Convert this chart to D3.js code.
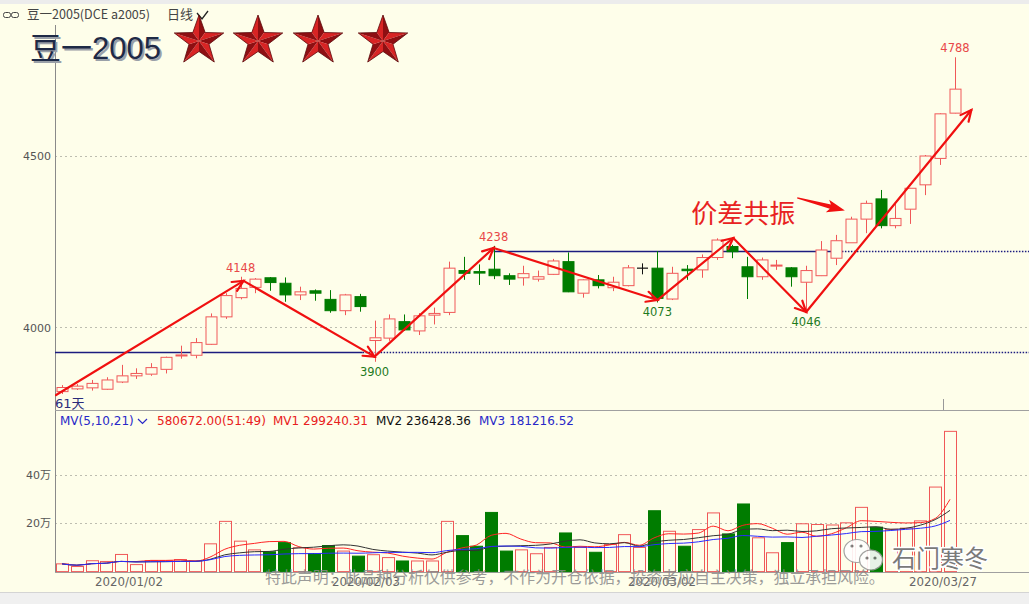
<!DOCTYPE html>
<html><head><meta charset="utf-8">
<script src="https://cdn.jsdelivr.net/npm/d3@7"></script>
<style>body{margin:0;background:#fff;} svg{display:block;}</style>
</head><body>
<svg id="c" width="1029" height="604"></svg>
<script>
// ---------------- DATA ----------------
const dates = ["2019/12/25","2019/12/26","2019/12/27","2019/12/30","2019/12/31",
"2020/01/02","2020/01/03","2020/01/06","2020/01/07","2020/01/08","2020/01/09","2020/01/10","2020/01/13","2020/01/14","2020/01/15","2020/01/16","2020/01/17","2020/01/20","2020/01/21","2020/01/22","2020/01/23",
"2020/02/03","2020/02/04","2020/02/05","2020/02/06","2020/02/07","2020/02/10","2020/02/11","2020/02/12","2020/02/13","2020/02/14","2020/02/17","2020/02/18","2020/02/19","2020/02/20","2020/02/21","2020/02/24","2020/02/25","2020/02/26","2020/02/27","2020/02/28",
"2020/03/02","2020/03/03","2020/03/04","2020/03/05","2020/03/06","2020/03/09","2020/03/10","2020/03/11","2020/03/12","2020/03/13","2020/03/16","2020/03/17","2020/03/18","2020/03/19","2020/03/20","2020/03/23","2020/03/24","2020/03/25","2020/03/26","2020/03/27"];
const opens  = [3813,3821,3824,3820,3841,3859,3864,3878,3917,3919,3951,4031,4087,4117,4145,4129,4095,4107,4082,4049,4090,3962,3969,4017,3990,4036,4044,4166,4163,4170,4151,4145,4141,4155,4192,4100,4139,4116,4122,4173,4173,4083,4170,4168,4204,4236,4177,4148,4179,4174,4132,4151,4202,4247,4316,4375,4297,4345,4416,4493,4625];
const closes = [3825,3829,3837,3847,3859,3866,3883,3913,3920,3956,4031,4093,4114,4141,4131,4095,4104,4100,4049,4095,4061,3970,4025,3993,4034,4041,4173,4158,4161,4151,4141,4157,4148,4194,4104,4139,4122,4132,4174,4173,4085,4158,4166,4204,4255,4221,4148,4197,4182,4148,4166,4226,4253,4316,4362,4297,4318,4406,4500,4623,4695];
const highs  = [3832,3835,3847,3855,3891,3881,3896,3915,3947,3969,4041,4100,4148,4144,4147,4146,4119,4111,4109,4098,4098,4020,4038,4038,4042,4058,4192,4206,4184,4238,4158,4180,4166,4200,4219,4141,4153,4148,4182,4187,4223,4177,4182,4213,4260,4241,4206,4204,4197,4176,4180,4252,4270,4323,4370,4401,4362,4407,4503,4625,4788];
const lows   = [3806,3818,3816,3818,3838,3850,3859,3866,3909,3910,3949,4025,4082,4100,4107,4075,4080,4078,4043,4036,4046,3900,3961,3990,3978,4009,4036,4139,4124,4141,4124,4122,4134,4153,4103,4087,4114,4106,4120,4155,4073,4080,4139,4145,4197,4202,4083,4139,4168,4119,4046,4150,4182,4247,4275,4289,4289,4302,4386,4474,4624];
// volume in 万
const volumes = [3.2,2.1,4.5,4.2,7.1,2.9,4.5,4.5,5,4.5,11.5,20.8,12.6,9,8.2,12,9.9,7.5,10.8,8.5,6.4,7,5.8,4.4,4.4,4.4,20.8,14.9,10.5,24.5,8.5,9,7.4,10,16,10,8,11.2,15.3,10,25.2,16.7,10.5,17.4,24.3,15.6,28,14,7.8,12,19.8,19.5,19.3,20.2,26.6,18.4,17.5,18,21,35,58.07];
const priceTicks = [4000,4500];
const volTicks = [20,40];
const dateTicks = ["2020/01/02","2020/02/03","2020/03/02","2020/03/27"];
const maPeriods = [5,10,21];
const levelPrices = [3929,4223];
const levelSolidFrom = [-0.6,29];
const levelSolidTo = [20.2,52];
const peakIdx = [12,29,60], peakVals = [4148,4238,4788];
const troughIdx = [21,40,50], troughVals = [3900,4073,4046];
const trendIdx = [-0.4,12.2,21,29,40,45.1,50,61.1];
const trendPrice = [3803,4136,3915,4232,4080,4261,4045,4634];
const calloutFrom = [49.4,4378], calloutTo = [52.6,4341];
const calloutText = "价差共振";
const titleText = "豆一2005";
const headerText = "豆一2005(DCE a2005)";
const periodText = "日线";
const daysText = "61天";
const mvLabels = ["MV(5,10,21)","580672.00(51:49)","MV1 299240.31","MV2 236428.36","MV3 181216.52"];
const disclaimer = "特此声明：此品种分析仅供参考，不作为开仓依据，投资者应自主决策，独立承担风险。";
const brandText = "石门寒冬";

// ---------------- LAYOUT ----------------
const W = 1029, H = 604;
const BG = "#fefeea";
const UP = "#f05858", DOWN = "#007c00";
const svg = d3.select("#c");
const x  = d3.scaleLinear().domain([0,60]).range([62,955]);
const xv = d3.scaleLinear().domain([0,60]).range([62,950]);
const y  = d3.scaleLinear().domain([3760,4880]).range([409.8,25.7]);
const yv = d3.scaleLinear().domain([0,66]).range([571.6,412.2]);
const LEFT = 55, RIGHT = W;

svg.append("rect").attr("width",W).attr("height",H).attr("fill",BG);
svg.append("rect").attr("width",W).attr("height",4).attr("fill","#ececec");
svg.append("rect").attr("y",592).attr("width",W).attr("height",12).attr("fill","#f0f0f0");
svg.append("line").attr("x1",0).attr("x2",W).attr("y1",592.5).attr("y2",592.5).attr("stroke","#d4d4d4");

// header
const hd = svg.append("g");
hd.append("rect").attr("x",3.5).attr("y",12.5).attr("width",7).attr("height",5).attr("rx",2).attr("fill","none").attr("stroke","#444");
hd.append("rect").attr("x",11.5).attr("y",12.5).attr("width",7).attr("height",5).attr("rx",2).attr("fill","none").attr("stroke","#444");
hd.append("text").attr("x",27).attr("y",19).attr("font-family","'Noto Sans CJK SC', 'DejaVu Sans Mono'").attr("font-size",12.5)
  .attr("fill","#444").attr("textLength",123).attr("lengthAdjust","spacingAndGlyphs").text(headerText);
hd.append("text").attr("x",167).attr("y",19).attr("font-family","'Noto Sans CJK SC'").attr("font-size",13).attr("fill","#444").text(periodText);
hd.append("path").attr("d","M197,13 L202,19 L208,11").attr("fill","none").attr("stroke","#222").attr("stroke-width",1.3);

// gridlines
priceTicks.forEach(p=>{
  svg.append("line").attr("x1",LEFT).attr("x2",RIGHT).attr("y1",Math.round(y(p))+0.5).attr("y2",Math.round(y(p))+0.5)
    .attr("stroke","#bdbdb0").attr("stroke-dasharray","2,3");
});
volTicks.forEach(v=>{
  svg.append("line").attr("x1",LEFT).attr("x2",RIGHT).attr("y1",Math.round(yv(v))+0.5).attr("y2",Math.round(yv(v))+0.5)
    .attr("stroke","#bdbdb0").attr("stroke-dasharray","2,3");
});

// axes frame
svg.append("line").attr("x1",LEFT+0.5).attr("x2",LEFT+0.5).attr("y1",25).attr("y2",572).attr("stroke","#8a8a8a");
svg.append("line").attr("x1",LEFT).attr("x2",RIGHT).attr("y1",410.5).attr("y2",410.5).attr("stroke","#a0a0a0");
svg.append("line").attr("x1",LEFT).attr("x2",RIGHT).attr("y1",572.5).attr("y2",572.5).attr("stroke","#a0a0a0");

const axP = svg.append("g").attr("transform",`translate(${LEFT},0)`)
  .call(d3.axisLeft(y).tickValues(priceTicks).tickSize(0).tickPadding(4).tickFormat(d3.format("d")));
const axV = svg.append("g").attr("transform",`translate(${LEFT},0)`)
  .call(d3.axisLeft(yv).tickValues(volTicks).tickSize(0).tickPadding(4).tickFormat(d=>d+"万"));
[axP,axV].forEach(a=>{a.select(".domain").remove(); a.selectAll("text").attr("font-family","'DejaVu Sans','Noto Sans CJK SC'").attr("font-size",11).attr("fill","#555");});

const xd = d3.scaleLinear().domain([0,60]).range([xv(0)-7.4, xv(60)-7.4]);
const axD = svg.append("g").attr("transform","translate(0,572)")
  .call(d3.axisBottom(xd).tickValues(dateTicks.map(d=>dates.indexOf(d))).tickSize(0).tickPadding(6).tickFormat(i=>dates[i]));
axD.select(".domain").remove();
axD.selectAll("text").attr("font-family","'DejaVu Sans'").attr("font-size",11.8).attr("fill","#666");
svg.append("line").attr("x1",Math.round(xd(60))+0.5).attr("x2",Math.round(xd(60))+0.5).attr("y1",399).attr("y2",410).attr("stroke","#999");

// level lines
levelPrices.forEach((p,k)=>{
  const yy = Math.round(y(p))+0.5;
  svg.append("line").attr("x1",Math.max(LEFT,x(levelSolidFrom[k]))).attr("x2",x(levelSolidTo[k])).attr("y1",yy).attr("y2",yy)
    .attr("stroke","#1c1c80").attr("stroke-width",1.4);
  svg.append("line").attr("x1",x(levelSolidTo[k])).attr("x2",RIGHT).attr("y1",yy).attr("y2",yy)
    .attr("stroke","#1c1c80").attr("stroke-width",1.4).attr("stroke-dasharray","1.5,1.5");
});

// candles
const cg = svg.append("g");
dates.forEach((d,i)=>{
  const o=opens[i], c=closes[i], h=highs[i], l=lows[i];
  const cx = Math.round(x(i))+0.5;
  const col = c>o ? UP : (c<o ? DOWN : "#111");
  const top = y(Math.max(o,c)), bot = y(Math.min(o,c));
  if (c>o) {
    cg.append("line").attr("x1",cx).attr("x2",cx).attr("y1",y(h)).attr("y2",top).attr("stroke",col);
    cg.append("line").attr("x1",cx).attr("x2",cx).attr("y1",bot).attr("y2",y(l)).attr("stroke",col);
    cg.append("rect").attr("x",cx-5.5).attr("y",top).attr("width",11).attr("height",Math.max(1,bot-top))
      .attr("fill",BG).attr("stroke",col);
  } else {
    cg.append("line").attr("x1",cx).attr("x2",cx).attr("y1",y(h)).attr("y2",y(l)).attr("stroke",col);
    if (c<o) cg.append("rect").attr("x",cx-5.5).attr("y",top).attr("width",11).attr("height",Math.max(1.5,bot-top))
      .attr("fill",col).attr("stroke",col);
    else cg.append("line").attr("x1",cx-5.5).attr("x2",cx+5.5).attr("y1",top).attr("y2",top).attr("stroke",col).attr("stroke-width",1.2);
  }
});

// volume bars
const vg = svg.append("g");
volumes.forEach((v,i)=>{
  const cx = Math.round(xv(i))+0.5;
  const down = closes[i]<opens[i];
  vg.append("rect").attr("x",cx-6).attr("y",yv(v)).attr("width",12).attr("height",yv(0)-yv(v))
    .attr("fill",down?DOWN:"none").attr("stroke",down?DOWN:UP);
});
// MA lines
const maCols = ["#ff2424","#333333","#2a2aff"];
maPeriods.forEach((p,k)=>{
  const ma = volumes.map((v,i)=>{const s=volumes.slice(Math.max(0,i-p+1),i+1); return d3.mean(s);});
  svg.append("path").datum(ma).attr("fill","none").attr("stroke",maCols[k]).attr("stroke-width",1)
    .attr("d",d3.line().x((d,i)=>xv(i)).y(d=>yv(d)).curve(d3.curveMonotoneX));
});

// MV header row
const mvX = [60,157,273,376,479];
const mvCol = ["#2828c8","#e82020","#e82020","#111","#2828c8"];
mvLabels.forEach((t,k)=>{
  svg.append("text").attr("x",mvX[k]).attr("y",424.5).attr("font-family","'DejaVu Sans'").attr("font-size",12)
    .attr("fill",mvCol[k]).text(t);
});
svg.append("path").attr("d","M138,419 L142.5,423.5 L147,419").attr("fill","none").attr("stroke","#2828c8").attr("stroke-width",1.2);

svg.append("text").attr("x",55).attr("y",408).attr("font-family","'DejaVu Sans','Noto Sans CJK SC'").attr("font-size",13)
  .attr("fill","#2b2b7a").text(daysText);

// extreme labels
peakIdx.forEach((i,k)=>{
  svg.append("text").attr("x",x(i)).attr("y",y(peakVals[k])-5).attr("text-anchor","middle")
    .attr("font-family","'DejaVu Sans'").attr("font-size",11.5).attr("fill","#e84848").text(peakVals[k]);
});
troughIdx.forEach((i,k)=>{
  svg.append("text").attr("x",x(i)).attr("y",y(troughVals[k])+14).attr("text-anchor","middle")
    .attr("font-family","'DejaVu Sans'").attr("font-size",11.5).attr("fill","#1e7a1e").text(troughVals[k]);
});

// trend arrows
const RED = "#f01010";
const ag = svg.append("g").attr("stroke",RED).attr("stroke-width",2.2).attr("fill","none").attr("stroke-linecap","round");
for (let k=0;k<trendIdx.length-1;k++){
  const x1=x(trendIdx[k]), y1=y(trendPrice[k]), x2=x(trendIdx[k+1]), y2=y(trendPrice[k+1]);
  ag.append("line").attr("x1",x1).attr("y1",y1).attr("x2",x2).attr("y2",y2);
  const a=Math.atan2(y2-y1,x2-x1), L=12, ang=0.45;
  ag.append("path").attr("d",`M${x2-L*Math.cos(a-ang)},${y2-L*Math.sin(a-ang)} L${x2},${y2} L${x2-L*Math.cos(a+ang)},${y2-L*Math.sin(a+ang)}`);
}

// callout
{
  const tx=x(calloutFrom[0]), ty=y(calloutFrom[1]), hx=x(calloutTo[0]), hy=y(calloutTo[1]);
  const len=Math.hypot(hx-tx,hy-ty), dx=(hx-tx)/len, dy=(hy-ty)/len, nx=-dy, ny=dx;
  const hl=15, bx=hx-dx*hl, by=hy-dy*hl, wx=hx-dx*(hl+3), wy=hy-dy*(hl+3);
  const pts=[[tx+nx*0.6,ty+ny*0.6],[bx+nx*2.2,by+ny*2.2],[wx+nx*6.5,wy+ny*6.5],[hx,hy],[wx-nx*6.5,wy-ny*6.5],[bx-nx*2.2,by-ny*2.2],[tx-nx*0.6,ty-ny*0.6]];
  svg.append("path").attr("d","M"+pts.map(p=>p.join(",")).join("L")+"Z").attr("fill",RED);
  svg.append("text").attr("x",tx-2).attr("y",223).attr("text-anchor","end").attr("font-family","'Noto Sans CJK SC'")
    .attr("font-size",26).attr("fill","#e82222").text(calloutText);
}

// title and stars
const tg = svg.append("g");
tg.append("text").attr("x",32).attr("y",61).attr("font-family","'Liberation Sans','Noto Sans CJK SC'").attr("font-size",31)
  .attr("fill","#9aa0a8").text(titleText);
tg.append("text").attr("x",30).attr("y",59).attr("font-family","'Liberation Sans','Noto Sans CJK SC'").attr("font-size",31)
  .attr("fill","#1e2a46").text(titleText);
const starCx = [199,258,318,383];
starCx.forEach(cx=>{
  const cy=41, R=26, r=10.5;
  const g=svg.append("g");
  const P=(ang,rad)=>[cx+rad*Math.cos(ang*Math.PI/180), cy+rad*Math.sin(ang*Math.PI/180)];
  const outline=[];
  for(let k=0;k<5;k++){
    const a=-90+72*k;
    const tip=P(a,R), il=P(a-36,r), ir=P(a+36,r);
    g.append("path").attr("d",`M${cx},${cy}L${tip}L${il}Z`).attr("fill","#d82424");
    g.append("path").attr("d",`M${cx},${cy}L${tip}L${ir}Z`).attr("fill","#8e0f12");
    outline.push(tip, ir);
  }
  g.append("path").attr("d","M"+outline.join("L")+"Z").attr("fill","none").attr("stroke","#5a080a").attr("stroke-width",0.8);
});

// watermark
svg.append("text").attr("x",265).attr("y",583).attr("font-family","'Noto Sans CJK SC'").attr("font-size",15.9)
  .attr("fill","#8a8a8a").attr("opacity",0.85).text(disclaimer);
const wg = svg.append("g").attr("opacity",0.9);
wg.append("ellipse").attr("cx",857).attr("cy",551).attr("rx",13).attr("ry",11.5).attr("fill","#fff").attr("stroke","#9a9a9a").attr("stroke-width",1.2);
wg.append("ellipse").attr("cx",871).attr("cy",560).attr("rx",11.5).attr("ry",10).attr("fill","#fff").attr("stroke","#9a9a9a").attr("stroke-width",1.2);
[[852,546],[861,546],[867,558],[875,558]].forEach(p=>wg.append("circle").attr("cx",p[0]).attr("cy",p[1]).attr("r",1.6).attr("fill","#777"));
svg.append("text").attr("x",892).attr("y",567).attr("font-family","'Noto Sans CJK SC'").attr("font-size",24)
  .attr("fill","#7a7a7a").attr("stroke","#fff").attr("stroke-width",3).attr("paint-order","stroke").text(brandText);
</script>
</body></html>
